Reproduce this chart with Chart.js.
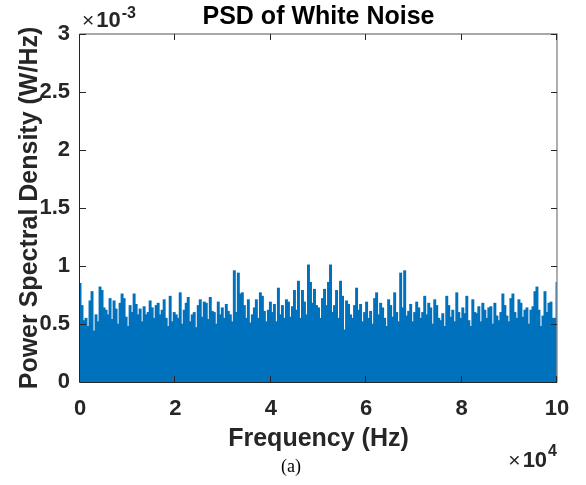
<!DOCTYPE html>
<html><head><meta charset="utf-8">
<script src="https://cdn.jsdelivr.net/npm/chart.js@4.4.1/dist/chart.umd.min.js"></script>
<style>html,body{margin:0;padding:0;background:#fff;}#wrap{position:relative;width:586px;height:485px;}</style>
</head><body><div id="wrap"><canvas id="c" width="586" height="485"></canvas></div>
<script>
// ---- data ----
const chartTitle = 'PSD of White Noise';
const xAxisTitle = 'Frequency (Hz)';
const yAxisTitle = 'Power Spectral Density (W/Hz)';
const caption = '(a)';
const xExponent = '4';
const yExponent = '-3';
const freqMaxHz = 100000;
const xTickValues = [0, 20000, 40000, 60000, 80000, 100000];
const yTickValues = [0, 0.5, 1, 1.5, 2, 2.5, 3];
// PSD peaks, in units of 1e-3 W/Hz, evenly spaced from 0 to 100 kHz
const psdE3 = [
0.85,0.66,0.53,0.55,0.48,0.70,0.78,0.44,0.58,0.52,0.82,0.79,0.64,0.62,0.58,0.72,0.54,0.70,0.63,0.50,0.68,0.76,0.72,0.56,0.48,0.66,0.60,0.76,0.67,0.58,0.63,0.52,0.65,0.58,0.60,0.70,0.64,0.55,0.66,0.68,0.58,0.62,0.71,0.55,0.48,0.74,0.52,0.60,
0.58,0.55,0.77,0.50,0.62,0.68,0.73,0.52,0.58,0.60,0.47,0.66,0.71,0.56,0.69,0.68,0.54,0.73,0.61,0.60,0.50,0.69,0.58,0.64,0.55,0.67,0.61,0.58,0.52,0.96,0.60,0.94,0.76,0.77,0.66,0.55,0.71,0.51,0.58,0.64,0.71,0.55,0.77,0.74,0.61,0.52,0.62,0.69,
0.60,0.67,0.52,0.81,0.58,0.66,0.55,0.71,0.69,0.56,0.65,0.79,0.62,0.87,0.55,0.79,0.69,0.58,1.01,0.86,0.68,0.80,0.66,0.64,0.55,0.72,0.80,0.66,0.86,1.01,0.60,0.66,0.79,0.55,0.87,0.74,0.45,0.70,0.67,0.58,0.55,0.66,0.81,0.62,0.67,0.52,0.60,0.69,
0.55,0.61,0.50,0.72,0.77,0.58,0.68,0.64,0.55,0.48,0.71,0.66,0.56,0.77,0.60,0.52,0.94,0.64,0.96,0.57,0.61,0.67,0.52,0.60,0.69,0.64,0.55,0.60,0.74,0.58,0.68,0.64,0.50,0.71,0.66,0.55,0.53,0.59,0.48,0.74,0.66,0.56,0.62,0.52,0.77,0.60,0.55,0.64,
0.59,0.74,0.53,0.48,0.71,0.60,0.59,0.65,0.52,0.68,0.62,0.55,0.64,0.65,0.50,0.68,0.57,0.53,0.60,0.76,0.66,0.57,0.52,0.72,0.76,0.60,0.55,0.71,0.68,0.56,0.62,0.64,0.50,0.62,0.65,0.78,0.82,0.62,0.48,0.57,0.78,0.60,0.68,0.69,0.55,0.55,0.86
];
const freqHz = psdE3.map((_, i) => i * freqMaxHz / (psdE3.length - 1));

// ---- styling ----
const FONT = '"Liberation Sans", Arial, Helvetica, sans-serif';
const AXIS_COLOR = '#262626';
const LINE_BLUE = '#0072BD';

function drawTimesTen(ctx, x, baseY, supY, exp) {
  // "×" regular, "10" bold, exponent bold smaller; returns total width
  ctx.font = '21px ' + FONT;
  const wx = ctx.measureText('\u00d7').width;
  ctx.font = 'bold 22px ' + FONT;
  const w10 = ctx.measureText('10').width;
  ctx.font = 'bold 16px ' + FONT;
  const we = ctx.measureText(exp).width;
  if (ctx.fillStyle !== undefined) {
    ctx.font = '21px ' + FONT; ctx.fillText('\u00d7', x, baseY);
    ctx.font = 'bold 22px ' + FONT; ctx.fillText('10', x + wx + 2, baseY);
    ctx.font = 'bold 16px ' + FONT; ctx.fillText(exp, x + wx + 2 + w10 + 1, supY);
  }
  return wx + 2 + w10 + 1 + we;
}

const boxPlugin = {
  id: 'matlabBox',
  afterDraw(chart) {
    const {ctx, chartArea: a, scales: {x, y}} = chart;
    ctx.save();
    ctx.lineWidth = 1;
    // box
    ctx.strokeStyle = AXIS_COLOR;
    ctx.beginPath();
    ctx.moveTo(a.left - 0.5, a.top); ctx.lineTo(a.left - 0.5, a.bottom + 0.5);
    ctx.lineTo(a.right, a.bottom + 0.5);
    ctx.stroke();
    ctx.strokeStyle = '#8c8c8c';
    ctx.lineWidth = 1.4;
    ctx.beginPath();
    ctx.moveTo(a.left - 0.5, a.top); ctx.lineTo(a.right, a.top); ctx.lineTo(a.right, a.bottom + 0.5);
    ctx.stroke();
    // inner ticks
    ctx.strokeStyle = AXIS_COLOR;
    ctx.lineWidth = 1;
    const tl = 6;
    ctx.beginPath();
    xTickValues.forEach(v => {
      const px = Math.round(x.getPixelForValue(v)) - 0.5;
      ctx.moveTo(px, a.bottom); ctx.lineTo(px, a.bottom - tl);
      ctx.moveTo(px, a.top); ctx.lineTo(px, a.top + tl);
    });
    yTickValues.forEach(v => {
      const py = Math.round(y.getPixelForValue(v)) + 0.5;
      ctx.moveTo(a.left, py); ctx.lineTo(a.left + tl, py);
      ctx.moveTo(a.right, py); ctx.lineTo(a.right - tl, py);
    });
    ctx.stroke();
    // title centred on plot area
    ctx.fillStyle = '#000';
    ctx.textAlign = 'center';
    ctx.textBaseline = 'alphabetic';
    ctx.font = 'bold 25px ' + FONT;
    ctx.fillText(chartTitle, (a.left + a.right) / 2, 24);
    // exponent labels
    ctx.fillStyle = AXIS_COLOR;
    ctx.textAlign = 'left';
    drawTimesTen(ctx, a.left + 2, 27, 18, yExponent);
    const w = drawTimesTen({measureText: t => ctx.measureText(t), fillText() {}, set font(f) { ctx.font = f; }}, 0, 0, 0, xExponent);
    drawTimesTen(ctx, a.right - w, 467, 456, xExponent);
    // caption
    ctx.font = '18px "Liberation Serif", "Times New Roman", serif';
    ctx.textAlign = 'center';
    ctx.fillStyle = '#000';
    ctx.fillText(caption, 291, 472);
    ctx.restore();
  }
};

new Chart(document.getElementById('c'), {
  type: 'bar',
  data: {
    datasets: [{
      data: psdE3.map((v, i) => ({x: freqHz[i], y: v})),
      backgroundColor: LINE_BLUE,
      borderWidth: 0,
      barPercentage: 1,
      categoryPercentage: 1,
      barThickness: 2.3
    }]
  },
  options: {
    responsive: false,
    devicePixelRatio: 1,
    animation: false,
    layout: {padding: {left: 0, right: 29, top: 34, bottom: 0}},
    plugins: {
      legend: {display: false},
      tooltip: {enabled: false},
      title: {display: false}
    },
    scales: {
      x: {
        type: 'linear', min: 0, max: freqMaxHz, offset: false,
        afterFit: s => { s.height = 103; },
        afterBuildTicks: s => { s.ticks = xTickValues.map(v => ({value: v})); },
        grid: {display: false, offset: false},
        border: {display: false},
        ticks: {
          color: AXIS_COLOR, padding: 6, maxRotation: 0, autoSkip: false,
          font: {family: FONT, size: 22, weight: 'bold'},
          callback: v => String(v / 10000)
        },
        title: {
          display: true, text: xAxisTitle, color: AXIS_COLOR,
          font: {family: FONT, size: 25, weight: 'bold'},
          padding: {top: 0, bottom: 31}
        }
      },
      y: {
        type: 'linear', min: 0, max: 3,
        afterFit: s => { s.width = 80; },
        afterBuildTicks: s => { s.ticks = yTickValues.map(v => ({value: v})); },
        grid: {display: false},
        border: {display: false},
        ticks: {
          color: AXIS_COLOR, padding: 2,
          font: {family: FONT, size: 22, weight: 'bold'},
          callback: v => String(v)
        },
        title: {
          display: true, text: yAxisTitle, color: AXIS_COLOR,
          font: {family: FONT, size: 25, weight: 'bold'},
          padding: {top: 15, bottom: 0}
        }
      }
    }
  },
  plugins: [boxPlugin]
});
</script></body></html>
